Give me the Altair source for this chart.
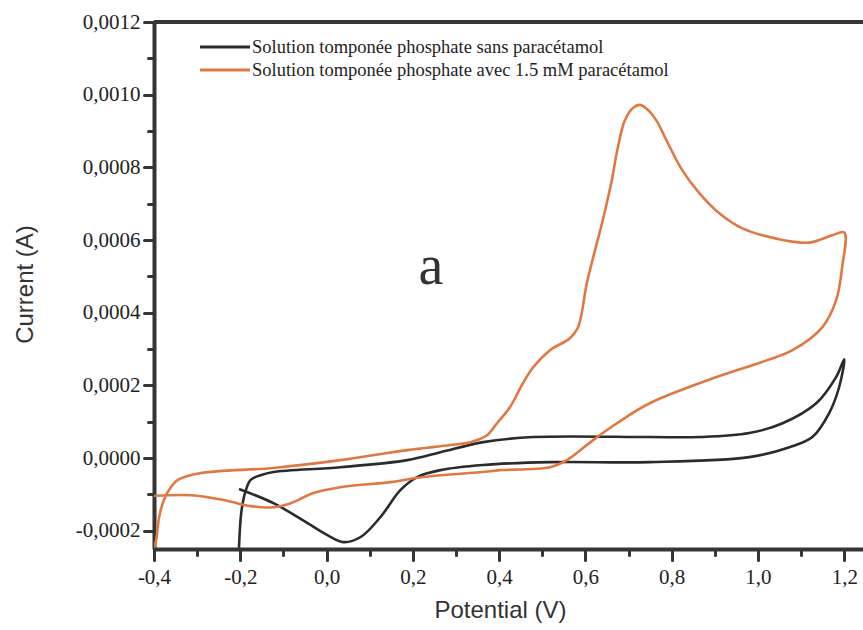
import altair as alt
import pandas as pd

series_names = [
    "Solution tomponée phosphate sans paracétamol",
    "Solution tomponée phosphate avec 1.5 mM paracétamol",
]
series_colors = ["#2b2b2b", "#e07843"]

# Black curve (buffer without paracetamol), in scan order
black_x = [-0.203, -0.197, -0.187, -0.176, -0.153, -0.123, 0.032, 0.187, 0.264, 0.363,
           0.479, 0.749, 0.865, 0.980, 1.057, 1.135, 1.181, 1.200,
           1.188, 1.165, 1.126, 1.073, 0.980, 0.749, 0.518, 0.363, 0.264, 0.210,
           0.171, 0.125, 0.079, 0.039, 0.002, -0.044, -0.123, -0.203]
black_y = [-0.000247, -0.000143, -0.000088, -0.000060, -0.000047, -0.000038, -0.000025,
           -0.0000055, 0.000016, 0.000044, 0.000058, 0.000058, 0.000058, 0.000069,
           0.000096, 0.000151, 0.000223, 0.000272,
           0.000195, 0.000124, 0.000058, 0.000030, 0.0000027, -0.000011, -0.000011,
           -0.000019, -0.000033, -0.000052, -0.000088, -0.000162, -0.000217, -0.000231,
           -0.000212, -0.000179, -0.000124, -0.000085]

# Orange curve (buffer with 1.5 mM paracetamol), in scan order
orange_x = [-0.400, -0.395, -0.388, -0.377, -0.361, -0.345, -0.291, -0.123, 0.032, 0.187,
            0.287, 0.333, 0.372, 0.395, 0.425, 0.455, 0.479, 0.518, 0.564, 0.583,
            0.603, 0.622, 0.640, 0.661, 0.675, 0.691, 0.708, 0.726, 0.742, 0.765,
            0.788, 0.825, 0.865, 0.911, 0.964, 1.043, 1.119, 1.172, 1.200,
            1.195, 1.181, 1.149, 1.080, 1.020, 0.904, 0.749, 0.673, 0.617, 0.557,
            0.518, 0.402, 0.379, 0.224, 0.148, 0.032, -0.030, -0.083, -0.123, -0.176,
            -0.238, -0.314, -0.400]
orange_y = [-0.000247, -0.000225, -0.000162, -0.000115, -0.000080, -0.000060, -0.000041,
            -0.000027, -0.0000055, 0.000022, 0.000036, 0.000044, 0.000063, 0.000096,
            0.000140, 0.000206, 0.000250, 0.000297, 0.000330, 0.000360, 0.000480,
            0.000571, 0.000654, 0.000764, 0.000854, 0.000928, 0.000961, 0.000972,
            0.000961, 0.000928, 0.000874, 0.000791, 0.000728, 0.000673, 0.000632,
            0.000604, 0.000593, 0.000613, 0.000621,
            0.000525, 0.000434, 0.000360, 0.000297, 0.000269, 0.000223, 0.000151,
            0.000096, 0.000049, -0.0000055, -0.000025, -0.000033, -0.000036, -0.000052,
            -0.000066, -0.000080, -0.000096, -0.000124, -0.000135, -0.000132, -0.000115,
            -0.000102, -0.000104]

x_major = [-0.4, -0.2, 0.0, 0.2, 0.4, 0.6, 0.8, 1.0, 1.2]
x_minor = [-0.3, -0.1, 0.1, 0.3, 0.5, 0.7, 0.9, 1.1]
y_major = [-0.0002, 0.0, 0.0002, 0.0004, 0.0006, 0.0008, 0.0010, 0.0012]
y_minor = [-0.0001, 0.0001, 0.0003, 0.0005, 0.0007, 0.0009, 0.0011]

W, H = 709, 527
AX = "#353535"

rows = []
for i, (xv, yv) in enumerate(zip(black_x, black_y)):
    rows.append({"series": series_names[0], "idx": i, "x": xv, "y": yv})
for i, (xv, yv) in enumerate(zip(orange_x, orange_y)):
    rows.append({"series": series_names[1], "idx": i, "x": xv, "y": yv})
df = pd.DataFrame(rows)

xs = alt.Scale(domain=[-0.4, 1.2434], nice=False, zero=False)
ys = alt.Scale(domain=[-0.00025, 0.0012], nice=False, zero=False)

x_expr = "replace(replace(format(datum.value, '.1f'), '.', ','), '\u2212', '-')"
y_expr = "replace(replace(format(datum.value, '.4f'), '.', ','), '\u2212', '-')"

x_axis = alt.Axis(values=x_major, orient="bottom", labelExpr=x_expr, title="Potential (V)",
                  grid=False, domainColor=AX, domainWidth=4, tickColor=AX, tickWidth=3,
                  tickSize=11, tickCap="round", labelFont="Liberation Serif", labelFontSize=21,
                  labelColor="#222", labelPadding=6, labelFlush=False,
                  titleFont="Liberation Sans", titleFontSize=24, titleFontWeight="normal",
                  titleColor="#333", titleX=346, titleY=61, titleBaseline="middle",
                  titleAlign="center")
y_axis = alt.Axis(values=y_major, orient="left", labelExpr=y_expr, title="Current (A)",
                  grid=False, domainColor=AX, domainWidth=4, tickColor=AX, tickWidth=3,
                  tickSize=10, tickCap="round", labelFont="Liberation Serif", labelFontSize=21,
                  labelColor="#222", labelPadding=4, labelFlush=False,
                  titleFont="Liberation Sans", titleFontSize=24, titleFontWeight="normal",
                  titleColor="#333", titleX=-129, titleY=262, titleBaseline="middle",
                  titleAlign="center", titleAngle=270)

x_minor_axis = alt.Axis(values=x_minor, orient="bottom", labels=False, domain=False,
                        grid=False, title=None, tickColor=AX, tickWidth=3, tickSize=6,
                        tickCap="round")
y_minor_axis = alt.Axis(values=y_minor, orient="left", labels=False, domain=False,
                        grid=False, title=None, tickColor=AX, tickWidth=3, tickSize=6,
                        tickCap="round")

lines = alt.Chart(df).mark_line(strokeWidth=2.6, interpolate="catmull-rom", clip=True).encode(
    x=alt.X("x:Q", scale=xs, axis=x_axis),
    y=alt.Y("y:Q", scale=ys, axis=y_axis),
    color=alt.Color("series:N", scale=alt.Scale(domain=series_names, range=series_colors),
                    legend=None),
    order="idx:Q",
)

minor = alt.Chart(df).mark_point(opacity=0).encode(
    x=alt.X("x:Q", scale=xs, axis=x_minor_axis),
    y=alt.Y("y:Q", scale=ys, axis=y_minor_axis),
)

one = pd.DataFrame({"k": [0]})
top_line = alt.Chart(one).mark_rule(strokeWidth=4, color=AX).encode(
    x=alt.value(0), x2=alt.value(W), y=alt.value(0)
)

legend_layers = []
for i, (name, col) in enumerate(zip(series_names, series_colors)):
    yy = 25 + 23 * i
    legend_layers.append(
        alt.Chart(one).mark_rule(strokeWidth=3, color=col).encode(
            x=alt.value(46), x2=alt.value(96), y=alt.value(yy))
    )
    legend_layers.append(
        alt.Chart(one).mark_text(text=name, font="Liberation Serif", fontSize=18.5,
                                 color="#1e1e1e", align="left", baseline="middle").encode(
            x=alt.value(98), y=alt.value(yy))
    )

label_a = alt.Chart(one).mark_text(text="a", font="Liberation Serif", fontSize=56,
                                   color="#333", align="center", baseline="middle").encode(
    x=alt.value(277), y=alt.value(245)
)

chart = alt.layer(minor, lines, top_line, label_a, *legend_layers).resolve_axis(
    x="independent", y="independent"
).properties(
    width=W, height=H,
    autosize=alt.AutoSizeParams(type="none"),
    padding={"left": 154, "top": 22, "right": 0, "bottom": 81},
).configure_view(stroke=None).configure(background="white")

chart.save("out.html", embed_options={"renderer": "svg", "actions": False})
